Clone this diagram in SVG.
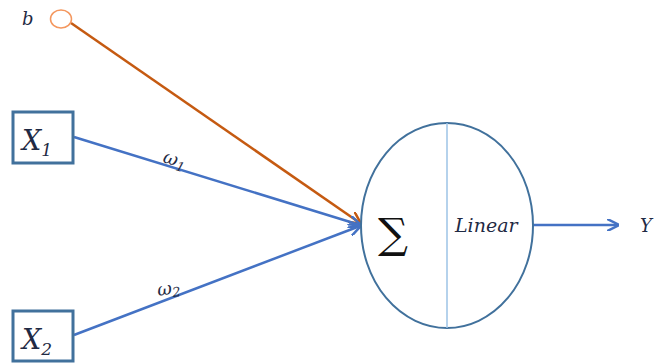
<svg xmlns="http://www.w3.org/2000/svg" width="655" height="364" viewBox="0 0 655 364">
<style>
.box{fill:#fff;stroke:#41719c;stroke-width:3}
.math{font-family:"DejaVu Serif","Liberation Serif",serif;font-style:italic;fill:#1f2a44}
.w{stroke:#4472c4;stroke-width:2.5;fill:none}
.o{stroke:#c55a11;stroke-width:2.5;fill:none}
</style>
<defs>
<marker id="ab" viewBox="0 0 10 10" refX="9" refY="5" markerWidth="5" markerHeight="5" orient="auto" markerUnits="strokeWidth"><path d="M0,0 L10,5 L0,10" fill="none" stroke="#4472c4" stroke-width="2"/></marker>
<marker id="ao" viewBox="0 0 10 10" refX="9" refY="5" markerWidth="5" markerHeight="5" orient="auto" markerUnits="strokeWidth"><path d="M0,0 L10,5 L0,10" fill="none" stroke="#c55a11" stroke-width="2"/></marker>
</defs>
<g id="connectors">
<line class="o" x1="71" y1="23" x2="360" y2="223" marker-end="url(#ao)"/>
<line class="w" x1="74" y1="137" x2="360" y2="225" marker-end="url(#ab)"/>
<line class="w" x1="74" y1="335" x2="360" y2="226" marker-end="url(#ab)"/>
<line class="w" x1="533" y1="225" x2="618" y2="225" marker-end="url(#ab)"/>
<text class="math" font-size="18" fill="#222" transform="translate(162,162) rotate(17)">ω<tspan font-size="13" dy="4">1</tspan></text>
<text class="math" font-size="18" fill="#222" transform="translate(158,296) rotate(-8)">ω<tspan font-size="13" dy="3">2</tspan></text>
</g>
<g id="bias">
<ellipse cx="61" cy="19" rx="10.5" ry="9" fill="#fff" stroke="#f4975e" stroke-width="1.5"/>
<text class="math" x="22" y="25" font-size="18" fill="#111">b</text>
</g>
<g id="x1">
<rect class="box" x="13" y="112" width="60" height="51"/>
<text class="math" x="22" y="150" font-size="27" fill="#243f60">X<tspan font-size="17" dy="6">1</tspan></text>
</g>
<g id="x2">
<rect class="box" x="13" y="311" width="60" height="50"/>
<text class="math" x="22" y="349" font-size="27" fill="#243f60">X<tspan font-size="17" dy="6">2</tspan></text>
</g>
<g id="neuron">
<ellipse cx="447" cy="225.5" rx="86" ry="102.5" fill="#fff" stroke="#41719c" stroke-width="2"/>
<line x1="447" y1="123" x2="447" y2="328" stroke="#9dc3e6" stroke-width="1.5"/>
<text x="378" y="248" font-family="DejaVu Serif,serif" font-size="42" fill="#111">∑</text>
<text class="math" x="455" y="232" font-size="19" fill="#111">Linear</text>
</g>
<g id="y">
<text class="math" x="640" y="232" font-size="18" fill="#111">Y</text>
</g>
</svg>
